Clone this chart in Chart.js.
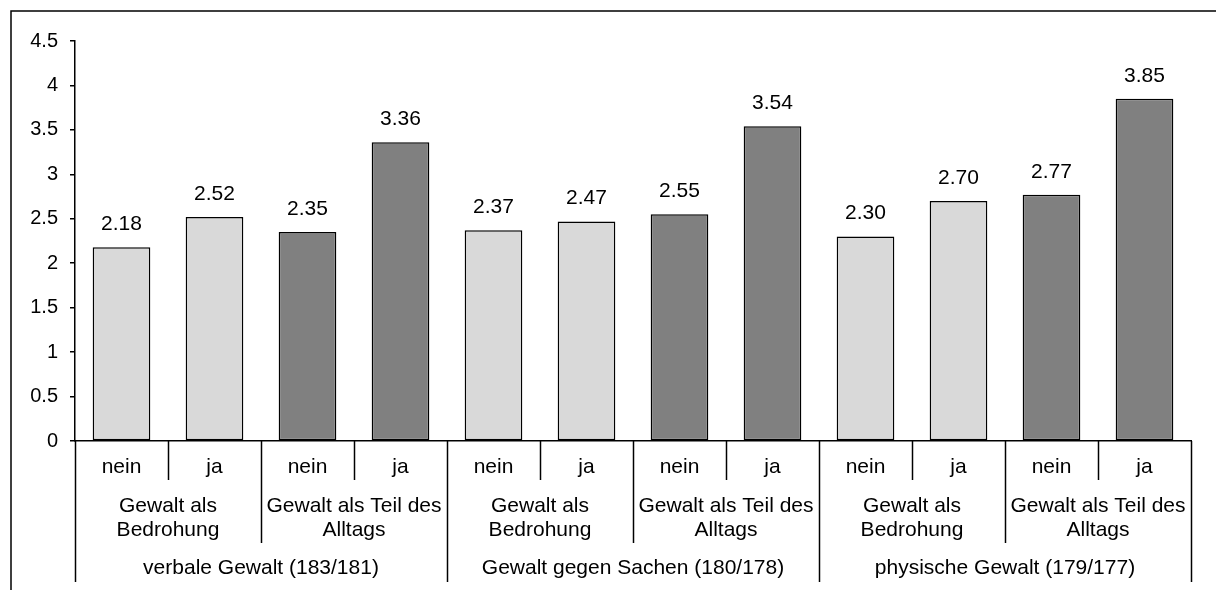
<!DOCTYPE html>
<html>
<head>
<meta charset="utf-8">
<title>Gewalt</title>
<script src="https://cdn.jsdelivr.net/npm/chart.js@4.4.1/dist/chart.umd.min.js"></script>
<style>
  html, body { margin: 0; padding: 0; background: #fff; }
  #wrap { width: 1216px; height: 590px; position: relative; }
</style>
</head>
<body>
<div id="wrap"><canvas id="chart"></canvas></div>
<script>
  // Daten
  const antworten = ['nein', 'ja', 'nein', 'ja', 'nein', 'ja', 'nein', 'ja', 'nein', 'ja', 'nein', 'ja'];
  const gruppen = [['Gewalt als', 'Bedrohung'], ['Gewalt als Teil des', 'Alltags']];
  const gewaltarten = ['verbale Gewalt (183/181)', 'Gewalt gegen Sachen (180/178)', 'physische Gewalt (179/177)'];
  const werte = [2.18, 2.52, 2.35, 3.36, 2.37, 2.47, 2.55, 3.54, 2.30, 2.70, 2.77, 3.85];
  const yTicks = [0, 0.5, 1, 1.5, 2, 2.5, 3, 3.5, 4, 4.5];

  const HELL = '#d9d9d9';
  const DUNKEL = '#808080';
  const FONT = "Arial, 'Liberation Sans', sans-serif";

  // Farbe je nach Gruppe (Bedrohung hell, Alltag dunkel)
  const farben = werte.map((v, i) => (Math.floor(i / 2) % 2 === 0 ? HELL : DUNKEL));

  // Rahmen um das Diagramm (oben und links sichtbar)
  const rahmen = {
    id: 'rahmen',
    afterDraw(chart) {
      const ctx = chart.ctx;
      ctx.save();
      ctx.strokeStyle = '#000';
      ctx.lineWidth = 1.5;
      ctx.beginPath();
      ctx.moveTo(11, chart.height + 2);
      ctx.lineTo(11, 11);
      ctx.lineTo(chart.width + 2, 11);
      ctx.stroke();
      ctx.restore();
    }
  };

  // Werte über den Balken
  const wertLabels = {
    id: 'wertLabels',
    afterDatasetsDraw(chart) {
      const ctx = chart.ctx;
      const meta = chart.getDatasetMeta(0);
      ctx.save();
      ctx.fillStyle = '#000';
      ctx.font = '21px ' + FONT;
      ctx.textAlign = 'center';
      ctx.textBaseline = 'middle';
      meta.data.forEach((bar, i) => {
        ctx.fillText(werte[i].toFixed(2), bar.x, bar.y - 23);
      });
      ctx.restore();
    }
  };

  // mehrstufige Kategorienachse
  const mehrstufig = {
    id: 'mehrstufig',
    afterDraw(chart) {
      const ctx = chart.ctx;
      const xs = chart.scales.x;
      const y0 = chart.chartArea.bottom;
      const n = antworten.length;
      const mitte = i => xs.getPixelForValue(i);
      const grenze = k => {
        if (k === 0) return chart.chartArea.left;
        if (k === n) return chart.chartArea.right;
        return (mitte(k - 1) + mitte(k)) / 2;
      };
      ctx.save();
      ctx.strokeStyle = '#000';
      ctx.lineWidth = 1.5;
      for (let k = 0; k <= n; k++) {
        const x = Math.round(grenze(k)) + 0.5;
        let y1 = y0 + 39;
        if (k % 4 === 0) y1 = y0 + 141;
        else if (k % 2 === 0) y1 = y0 + 102;
        ctx.beginPath();
        ctx.moveTo(x, y0);
        ctx.lineTo(x, y1);
        ctx.stroke();
      }
      ctx.fillStyle = '#000';
      ctx.font = '21px ' + FONT;
      ctx.textAlign = 'center';
      ctx.textBaseline = 'middle';
      antworten.forEach((t, i) => ctx.fillText(t, mitte(i), y0 + 26));
      for (let g = 0; g < n / 2; g++) {
        const cx = (grenze(g * 2) + grenze(g * 2 + 2)) / 2;
        const zeilen = gruppen[g % 2];
        ctx.fillText(zeilen[0], cx, y0 + 65);
        ctx.fillText(zeilen[1], cx, y0 + 89);
      }
      gewaltarten.forEach((t, j) => {
        const cx = (grenze(j * 4) + grenze(j * 4 + 4)) / 2;
        ctx.fillText(t, cx, y0 + 127);
      });
      ctx.restore();
    }
  };

  new Chart(document.getElementById('chart'), {
    type: 'bar',
    data: {
      labels: antworten,
      datasets: [{
        data: werte,
        backgroundColor: farben,
        borderColor: '#000',
        borderWidth: 1.5,
        borderSkipped: false,
        barPercentage: 0.62,
        categoryPercentage: 1
      }]
    },
    options: {
      responsive: true,
      maintainAspectRatio: false,
      animation: false,
      layout: { padding: { top: 41, right: 25, left: 0, bottom: 0 } },
      plugins: {
        legend: { display: false },
        tooltip: { enabled: false }
      },
      scales: {
        x: {
          ticks: { display: false },
          grid: { display: false },
          border: { display: true, color: '#000', width: 1.5 },
          afterFit(scale) { scale.height = 149; }
        },
        y: {
          min: 0,
          max: 4.5,
          afterBuildTicks(scale) { scale.ticks = yTicks.map(v => ({ value: v })); },
          ticks: {
            color: '#000',
            padding: 12,
            font: { family: FONT, size: 20 },
            callback: v => String(v)
          },
          grid: {
            display: true,
            drawOnChartArea: false,
            drawTicks: true,
            tickLength: 5,
            color: '#000',
            lineWidth: 1.5
          },
          border: { display: true, color: '#000', width: 1.5 },
          afterFit(scale) { scale.width = 75; }
        }
      }
    },
    plugins: [rahmen, wertLabels, mehrstufig]
  });
</script>
</body>
</html>
